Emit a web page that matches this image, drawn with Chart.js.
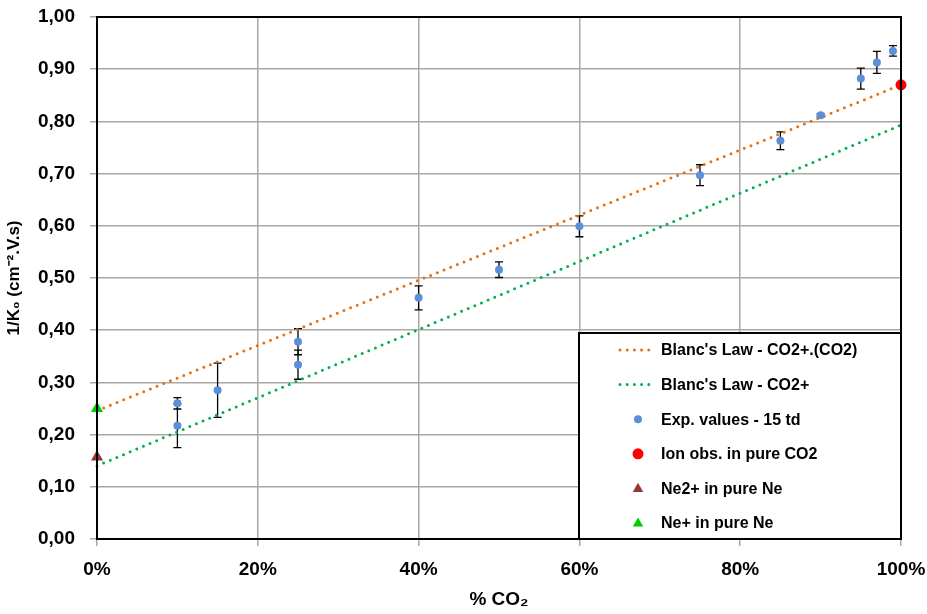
<!DOCTYPE html>
<html>
<head>
<meta charset="utf-8">
<script src="https://cdn.jsdelivr.net/npm/chart.js@4.4.0/dist/chart.umd.min.js"></script>
<style>
  body { margin: 0; background: #fff; }
  #wrap { width: 927px; height: 614px; }
</style>
</head>
<body>
<div id="wrap"><canvas id="blancChart" width="927" height="614"></canvas></div>
<script>
// fraction of CO2 (x) and 1/K0 values
const expX = [0.10, 0.10, 0.15, 0.25, 0.25, 0.40, 0.50, 0.60, 0.75, 0.85, 0.90, 0.95, 0.97, 0.99];
const expY = [0.260, 0.217, 0.285, 0.378, 0.334, 0.462, 0.516, 0.599, 0.697, 0.763, 0.812, 0.882, 0.913, 0.935];
const expErr = [0.011, 0.042, 0.052, 0.025, 0.028, 0.023, 0.015, 0.020, 0.020, 0.017, 0.003, 0.020, 0.021, 0.010];

const blancIonX = [0, 1];
const blancIonY = [0.246, 0.870];     // CO2+.(CO2)
const blancCo2X = [0, 1];
const blancCo2Y = [0.140, 0.793];     // CO2+

const pureCo2 = [1, 0.870];
const ne2Pure = [0, 0.157];
const nePure = [0, 0.250];

const legendLabels = [
    "Blanc's Law - CO2+.(CO2)",
    "Blanc's Law - CO2+",
    'Exp. values - 15 td',
    'Ion obs. in pure CO2',
    'Ne2+ in pure Ne',
    'Ne+ in pure Ne'
];

const FONT = "'Liberation Sans', Arial, sans-serif";
const pts = (xs, ys) => xs.map((v, i) => ({ x: v, y: ys[i] }));

const errorBars = {
    id: 'errorBars',
    beforeDatasetsDraw(chart) {
        const { ctx, scales: { x, y } } = chart;
        ctx.save();
        ctx.strokeStyle = '#000';
        ctx.lineWidth = 1.3;
        expX.forEach((v, i) => {
            const px = x.getPixelForValue(v);
            const top = y.getPixelForValue(expY[i] + expErr[i]);
            const bot = y.getPixelForValue(expY[i] - expErr[i]);
            ctx.beginPath();
            ctx.moveTo(px, top); ctx.lineTo(px, bot);
            ctx.moveTo(px - 4, top); ctx.lineTo(px + 4, top);
            ctx.moveTo(px - 4, bot); ctx.lineTo(px + 4, bot);
            ctx.stroke();
        });
        ctx.restore();
    }
};

function marker(ctx, style, r, cx, cy, color) {
    ctx.fillStyle = color;
    ctx.beginPath();
    if (style === 'triangle') {
        ctx.moveTo(cx, cy - r * 0.8);
        ctx.lineTo(cx + r * 0.75, cy + r * 0.5);
        ctx.lineTo(cx - r * 0.75, cy + r * 0.5);
        ctx.closePath();
    } else {
        ctx.arc(cx, cy, r, 0, Math.PI * 2);
    }
    ctx.fill();
}

const frameAndLegend = {
    id: 'frameAndLegend',
    afterDraw(chart) {
        const { ctx, chartArea: a } = chart;
        ctx.save();
        ctx.strokeStyle = '#000';
        ctx.lineWidth = 2;
        ctx.strokeRect(a.left, a.top, a.right - a.left, a.bottom - a.top);

        // legend box in the lower right corner of the plot
        const bx = a.right - 322, by = a.bottom - 206;
        ctx.fillStyle = '#fff';
        ctx.fillRect(bx, by, 322, 206);
        ctx.strokeRect(bx, by, 322, 206);

        ctx.font = 'bold 16px ' + FONT;
        ctx.textBaseline = 'middle';
        chart.data.datasets.forEach((ds, i) => {
            const ry = by + 17 + i * 34.6;
            if (ds.showLine) {
                ctx.strokeStyle = ds.borderColor;
                ctx.lineWidth = ds.borderWidth;
                ctx.lineCap = 'round';
                ctx.setLineDash(ds.borderDash);
                ctx.beginPath();
                ctx.moveTo(bx + 41, ry);
                ctx.lineTo(bx + 72, ry);
                ctx.stroke();
                ctx.setLineDash([]);
            } else {
                marker(ctx, ds.pointStyle, ds.pointRadius, bx + 59, ry, ds.backgroundColor);
            }
            ctx.fillStyle = '#000';
            ctx.fillText(legendLabels[i], bx + 82, ry + 1);
        });
        ctx.restore();
    }
};

new Chart(document.getElementById('blancChart'), {
    type: 'scatter',
    data: {
        datasets: [
            {
                label: legendLabels[0],
                data: pts(blancIonX, blancIonY),
                showLine: true,
                borderColor: '#e8700f',
                borderWidth: 3,
                borderDash: [0, 7.2],
                borderCapStyle: 'round',
                pointRadius: 0,
                order: 2,
                clip: false
            },
            {
                label: legendLabels[1],
                data: pts(blancCo2X, blancCo2Y),
                showLine: true,
                borderColor: '#00b050',
                borderWidth: 3,
                borderDash: [0, 7.2],
                borderCapStyle: 'round',
                pointRadius: 0,
                order: 2,
                clip: false
            },
            {
                label: legendLabels[2],
                data: pts(expX, expY),
                pointStyle: 'circle',
                pointRadius: 4,
                backgroundColor: '#5b8fd9',
                borderWidth: 0,
                order: 1
            },
            {
                label: legendLabels[3],
                data: [{ x: pureCo2[0], y: pureCo2[1] }],
                pointStyle: 'circle',
                pointRadius: 5.5,
                backgroundColor: '#ff0000',
                borderWidth: 0,
                order: 1,
                clip: false
            },
            {
                label: legendLabels[4],
                data: [{ x: ne2Pure[0], y: ne2Pure[1] }],
                pointStyle: 'triangle',
                pointRadius: 7,
                backgroundColor: '#953735',
                borderWidth: 0,
                order: 1,
                clip: false
            },
            {
                label: legendLabels[5],
                data: [{ x: nePure[0], y: nePure[1] }],
                pointStyle: 'triangle',
                pointRadius: 7,
                backgroundColor: '#00cc00',
                borderWidth: 0,
                order: 1,
                clip: false
            }
        ]
    },
    options: {
        responsive: false,
        animation: false,
        events: [],
        layout: { padding: { top: 17, right: 26, left: 0, bottom: 0 } },
        scales: {
            x: {
                type: 'linear',
                min: 0,
                max: 1,
                afterFit: s => { s.height = 75; s.paddingLeft = 0; s.paddingRight = 0; },
                ticks: {
                    stepSize: 0.2,
                    padding: 12,
                    color: '#000',
                    font: { family: FONT, size: 19, weight: 'bold' },
                    callback: v => Math.round(v * 100) + '%'
                },
                grid: { color: '#a8a8a8', lineWidth: 1.5, tickLength: 7 },
                border: { color: '#333', width: 2 },
                title: {
                    display: true,
                    text: '% CO₂',
                    color: '#000',
                    padding: { bottom: 3 },
                    font: { family: FONT, size: 19, weight: 'bold' }
                }
            },
            y: {
                min: 0,
                max: 1,
                afterFit: s => { s.width = 97; s.paddingTop = 0; s.paddingBottom = 0; },
                ticks: {
                    stepSize: 0.1,
                    padding: 15,
                    color: '#000',
                    font: { family: FONT, size: 19, weight: 'bold' },
                    callback: v => v.toFixed(2).replace('.', ',')
                },
                grid: { color: '#a8a8a8', lineWidth: 1.5, tickLength: 7 },
                border: { color: '#333', width: 2 },
                title: {
                    display: true,
                    text: '1/K₀ (cm⁻².V.s)',
                    color: '#000',
                    padding: { top: 4 },
                    font: { family: FONT, size: 17, weight: 'bold' }
                }
            }
        },
        plugins: {
            legend: { display: false },
            tooltip: { enabled: false }
        }
    },
    plugins: [errorBars, frameAndLegend]
});
</script>
</body>
</html>
